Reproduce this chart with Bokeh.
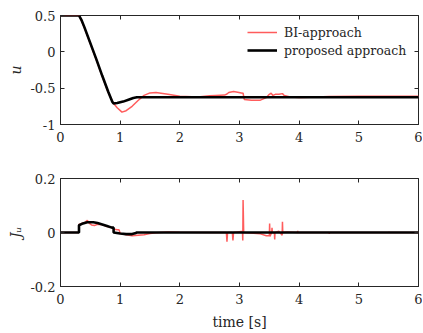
import numpy as np
from bokeh.plotting import figure
from bokeh.models import LinearAxis, Legend, LegendItem, FixedTicker, Range1d
from bokeh.layouts import column
from bokeh.embed import file_html
from bokeh.resources import INLINE

# ---------------- data ----------------
t_prop_u = [0, 0.31, 0.35, 0.40, 0.50, 0.60, 0.70, 0.80, 0.87, 0.89, 0.95, 1.05, 1.15, 1.22, 1.28, 2.0, 3.0, 4.0, 5.0, 6.0]
u_prop = [0.5, 0.5, 0.44, 0.34, 0.12, -0.10, -0.33, -0.55, -0.69, -0.71, -0.705, -0.685, -0.655, -0.635, -0.625,
          -0.625, -0.625, -0.625, -0.625, -0.625]

t_bi_u = [0, 0.31, 0.35, 0.40, 0.50, 0.60, 0.70, 0.80, 0.88, 0.95, 1.03, 1.10, 1.20, 1.30, 1.40, 1.50, 1.60, 1.80,
          2.00, 2.30, 2.50, 2.60, 2.75, 2.79, 2.82, 2.90, 2.97, 3.03, 3.06, 3.08, 3.20, 3.35, 3.45, 3.50, 3.53, 3.56,
          3.60, 3.66, 3.72, 3.75, 3.85, 4.00, 4.20, 4.50, 5.00, 6.00]
u_bi = [0.5, 0.5, 0.43, 0.33, 0.11, -0.11, -0.34, -0.56, -0.70, -0.77, -0.83, -0.81, -0.75, -0.67, -0.60, -0.565,
        -0.56, -0.585, -0.61, -0.62, -0.605, -0.60, -0.595, -0.58, -0.56, -0.545, -0.555, -0.565, -0.57, -0.655,
        -0.665, -0.665, -0.63, -0.585, -0.57, -0.60, -0.585, -0.585, -0.575, -0.60, -0.62, -0.63, -0.625, -0.615,
        -0.612, -0.612]

t_prop_j = [0, 0.31, 0.31, 0.36, 0.45, 0.55, 0.62, 0.70, 0.78, 0.86, 0.89, 0.89, 1.0, 1.1, 1.2, 1.25, 1.28, 6.0]
j_prop = [0, 0, 0.027, 0.032, 0.038, 0.038, 0.035, 0.030, 0.024, 0.018, 0.018, 0.0, -0.004, -0.006, -0.006, -0.003,
          0.0, 0.0]

t_bi_j = [0, 0.31, 0.31, 0.35, 0.40, 0.45, 0.48, 0.52, 0.57, 0.62, 0.68, 0.73, 0.78, 0.85, 0.90, 0.95, 0.98,
          1.00, 1.10, 1.20, 1.30, 1.40, 1.50, 1.60, 1.80, 2.00, 2.50, 2.78, 2.79, 2.80, 2.88, 2.89, 2.90, 3.03,
          3.05, 3.055, 3.06, 3.07, 3.35, 3.45, 3.50, 3.505, 3.51, 3.54, 3.545, 3.55, 3.585, 3.59, 3.595, 3.66,
          3.715, 3.72, 3.725, 3.80, 3.97, 3.975, 3.98, 4.50, 4.505, 4.51, 5.50, 5.505, 5.51, 6.00]
j_bi = [0, 0, 0.030, 0.033, 0.036, 0.045, 0.035, 0.028, 0.026, 0.030, 0.030, 0.027, 0.022, 0.020, 0.012, 0.010,
        0.010, -0.003, -0.008, -0.012, -0.010, -0.008, -0.004, -0.001, 0.002, 0.001, 0.0, 0.0, -0.034, 0.0, 0.0,
        -0.029, 0.0, 0.004, 0.004, -0.030, 0.120, 0.0, -0.005, -0.012, -0.012, 0.033, -0.015, 0.0, 0.017, 0.0,
        0.0, -0.026, 0.0, 0.005, -0.010, 0.040, 0.0, 0.002, 0.0, 0.006, 0.0, 0.0, -0.005, 0.0, 0.0, 0.002, 0.0,
        0.0]

x_ticks = [0, 1, 2, 3, 4, 5, 6]
u_ticks = [-1, -0.5, 0, 0.5]
u_tick_labels = ["-1", "-0.5", "0", "0.5"]
j_ticks = [-0.2, 0, 0.2]
j_tick_labels = ["-0.2", "0", "0.2"]

FONT = "DejaVu Serif"
RED = "#ff4a4a"
AX = "#262626"


def make_fig(yr, yticks, ylabels, ylabel, height, top, bottom, xlabel=None):
    p = figure(width=422, height=height, x_range=Range1d(0, 6), y_range=Range1d(*yr),
               output_backend="svg", toolbar_location=None,
               min_border_left=60, min_border_right=4, min_border_top=top, min_border_bottom=bottom)
    p.grid.visible = False
    p.outline_line_color = AX
    p.outline_line_width = 1
    p.background_fill_color = "white"
    p.border_fill_color = "white"
    for ax, tk, labs in ((p.xaxis[0], x_ticks, [str(v) for v in x_ticks]), (p.yaxis[0], yticks, ylabels)):
        ax.ticker = FixedTicker(ticks=tk)
        ax.major_label_overrides = {v: l for v, l in zip(tk, labs)}
        ax.major_tick_in = 4
        ax.major_tick_out = 0
        ax.minor_tick_in = 0
        ax.minor_tick_out = 0
        ax.axis_line_color = AX
        ax.major_tick_line_color = AX
        ax.major_label_text_font = FONT
        ax.major_label_text_font_size = "13px"
        ax.major_label_text_color = "#262626"
        ax.axis_label_text_font = FONT
        ax.axis_label_text_font_size = "14px"
        ax.axis_label_text_font_style = "normal"
        ax.axis_label_text_color = "#262626"
    p.xaxis.major_label_standoff = 7
    p.yaxis.major_label_standoff = 5
    p.yaxis.axis_label = ylabel
    p.yaxis.axis_label_text_font_style = "italic"
    p.yaxis.axis_label_text_font_size = "14px"
    p.yaxis.axis_label_standoff = 3
    if xlabel:
        p.xaxis.axis_label = xlabel
        p.xaxis.axis_label_standoff = 7
    for loc, tk in (("above", x_ticks), ("right", yticks)):
        ax = LinearAxis(ticker=FixedTicker(ticks=tk), major_label_overrides={v: "" for v in tk},
                        major_label_text_font_size="1px",
                        major_tick_in=4, major_tick_out=0, minor_tick_in=0, minor_tick_out=0,
                        major_label_standoff=0, axis_line_color=None, major_tick_line_color=AX)
        p.add_layout(ax, loc)
    return p


p1 = make_fig((-1, 0.5), u_ticks, u_tick_labels, "u", height=150, top=15, bottom=26)
r_bi = p1.line(t_bi_u, u_bi, line_color=RED, line_width=1.5, line_alpha=0.9)
r_pr = p1.line(t_prop_u, u_prop, line_color="black", line_width=2.6)
legend = Legend(items=[LegendItem(label="BI-approach", renderers=[r_bi]),
                       LegendItem(label="proposed approach", renderers=[r_pr])],
                location=(186, 64), border_line_alpha=0, background_fill_alpha=0,
                label_text_font=FONT, label_text_font_size="12.5px", label_text_color="#262626",
                glyph_width=30, glyph_height=18, label_height=18, spacing=0, padding=1, margin=0,
                label_standoff=7)
p1.add_layout(legend)

p2 = make_fig((-0.2, 0.2), j_ticks, j_tick_labels, "J\u1d64", height=182, top=28, bottom=45, xlabel="time [s]")
p2.line(t_bi_j, j_bi, line_color=RED, line_width=1.5, line_alpha=0.9)
p2.line(t_prop_j, j_prop, line_color="black", line_width=2.6)

layout = column(p1, p2, spacing=0)
open("out.html", "w").write(file_html(layout, INLINE))
